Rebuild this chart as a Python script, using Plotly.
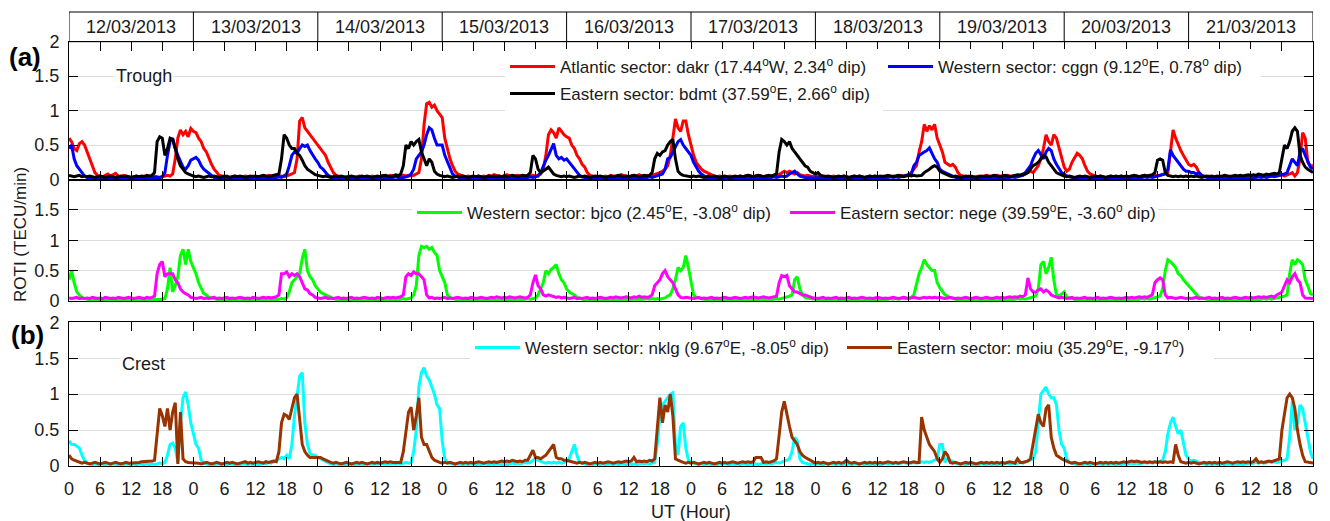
import plotly.graph_objects as go

FONT = "Arial, Liberation Sans, sans-serif"

# ---------------- data (ROTI, TECU/min), one value every 0.5 h, 12/03 00UT -> 22/03 00UT
HOURS = [i / 2 for i in range(481)]
DAYS = ["12/03/2013", "13/03/2013", "14/03/2013", "15/03/2013", "16/03/2013",
        "17/03/2013", "18/03/2013", "19/03/2013", "20/03/2013", "21/03/2013"]
X_TICKS = [0, 6, 12, 18, 24, 30, 36, 42, 48, 54, 60, 66, 72, 78, 84, 90, 96, 102, 108, 114,
           120, 126, 132, 138, 144, 150, 156, 162, 168, 174, 180, 186, 192, 198, 204, 210,
           216, 222, 228, 234, 240]
X_TICK_TEXT = ["0", "6", "12", "18"] * 10 + ["0"]
Y_TICKS = [0, 0.5, 1, 1.5, 2]
Y_TICK_TEXT = ["0", "0.5", "1", "1.5", "2"]
Y_TICK_TEXT_MID = ["0", "0.5", "1", "1.5", ""]

DAKR = [
 .6,.55,.45,.42,.52,.55,.5,.4,.28,.18,.1,.06,
 .05,.04,.06,.08,.05,.07,.09,.05,.04,.06,.05,.04,
 .03,.04,.05,.03,.04,.05,.04,.03,.04,.05,.04,.03,
 .04,.05,.06,.05,.08,.3,.6,.72,.65,.7,.62,.74,
 .7,.68,.6,.55,.45,.4,.3,.22,.15,.1,.06,.05,
 .04,.05,.03,.04,.05,.04,.03,.04,.05,.04,.03,.05,
 .04,.03,.04,.05,.04,.06,.05,.04,.05,.04,.05,.04,
 .05,.06,.08,.1,.3,.85,.9,.75,.7,.65,.6,.55,
 .5,.45,.4,.35,.25,.18,.1,.06,.05,.04,.03,.04,
 .05,.04,.03,.04,.05,.04,.03,.04,.03,.05,.04,.03,
 .04,.06,.05,.04,.06,.05,.07,.06,.05,.06,.05,.06,
 .05,.06,.08,.1,.3,.8,1.1,1.12,1.05,1.08,1.0,.95,
 .9,.6,.45,.3,.2,.12,.08,.06,.05,.04,.05,.04,
 .03,.04,.05,.04,.05,.04,.06,.05,.07,.06,.05,.04,
 .06,.07,.05,.04,.05,.06,.05,.04,.05,.06,.05,.06,
 .05,.06,.08,.15,.35,.65,.72,.68,.6,.75,.7,.65,
 .62,.6,.5,.45,.35,.3,.22,.18,.1,.06,.05,.04,
 .05,.04,.03,.05,.04,.06,.05,.04,.05,.07,.06,.05,
 .04,.05,.06,.05,.07,.05,.04,.06,.05,.06,.07,.08,
 .1,.12,.15,.2,.35,.6,.88,.75,.7,.85,.85,.65,
 .5,.35,.25,.2,.15,.12,.1,.08,.06,.05,.04,.05,
 .04,.03,.04,.05,.04,.03,.04,.05,.04,.05,.06,.05,
 .04,.05,.06,.05,.04,.05,.04,.05,.06,.05,.07,.1,
 .12,.1,.12,.1,.08,.1,.07,.06,.05,.06,.05,.04,
 .05,.04,.05,.04,.05,.03,.04,.05,.04,.03,.04,.05,
 .04,.03,.04,.05,.04,.05,.04,.03,.04,.05,.04,.05,
 .04,.03,.05,.04,.05,.04,.05,.04,.05,.06,.05,.06,
 .07,.1,.15,.2,.4,.55,.8,.7,.78,.72,.8,.6,
 .5,.4,.25,.22,.2,.22,.18,.1,.06,.05,.04,.05,
 .04,.03,.04,.05,.04,.05,.06,.05,.04,.05,.06,.05,
 .04,.05,.06,.05,.04,.05,.06,.07,.06,.08,.1,.12,
 .1,.15,.2,.3,.45,.65,.55,.5,.65,.6,.45,.3,
 .18,.12,.15,.25,.32,.38,.35,.3,.2,.12,.08,.06,
 .05,.04,.05,.04,.03,.04,.05,.04,.03,.04,.05,.04,
 .03,.04,.05,.04,.05,.04,.05,.06,.05,.04,.05,.06,
 .05,.06,.07,.08,.1,.4,.72,.6,.5,.42,.35,.28,
 .22,.2,.22,.18,.1,.06,.05,.04,.05,.04,.03,.04,
 .05,.04,.03,.04,.05,.04,.03,.04,.05,.04,.05,.04,
 .05,.06,.05,.04,.05,.06,.05,.06,.05,.06,.05,.06,
 .07,.05,.06,.08,.1,.05,.1,.3,.68,.6,.25,.2,
 .2]

CGGN = [
 .45,.5,.3,.2,.15,.1,.05,.03,.03,.02,.03,.02,
 .02,.03,.02,.03,.02,.02,.03,.02,.03,.02,.02,.03,
 .02,.03,.02,.02,.03,.02,.03,.02,.02,.03,.02,.03,
 .04,.1,.35,.55,.6,.45,.35,.25,.18,.15,.2,.28,
 .3,.32,.28,.2,.15,.12,.08,.05,.03,.03,.02,.03,
 .02,.03,.02,.02,.03,.02,.03,.02,.02,.03,.02,.03,
 .02,.03,.02,.03,.02,.02,.03,.02,.03,.04,.03,.05,
 .08,.2,.35,.4,.38,.45,.5,.48,.5,.42,.35,.3,
 .25,.18,.15,.1,.06,.04,.03,.02,.03,.02,.03,.02,
 .02,.03,.02,.03,.02,.02,.03,.02,.03,.02,.02,.03,
 .02,.03,.02,.03,.02,.03,.04,.03,.02,.03,.04,.05,
 .08,.15,.3,.35,.4,.5,.65,.75,.72,.6,.5,.5,
 .5,.35,.25,.15,.08,.05,.03,.02,.03,.02,.03,.02,
 .02,.03,.02,.03,.02,.02,.03,.02,.03,.02,.02,.03,
 .02,.03,.02,.03,.02,.03,.02,.03,.02,.03,.04,.03,
 .04,.05,.1,.2,.28,.35,.45,.52,.35,.3,.32,.28,
 .3,.25,.2,.15,.1,.06,.04,.03,.02,.03,.02,.03,
 .02,.02,.03,.02,.03,.02,.02,.03,.02,.03,.02,.03,
 .02,.03,.02,.03,.02,.03,.02,.03,.04,.03,.04,.05,
 .06,.08,.15,.3,.32,.4,.48,.55,.58,.5,.45,.4,
 .35,.25,.18,.12,.08,.05,.03,.02,.03,.02,.03,.02,
 .02,.03,.02,.03,.02,.02,.03,.02,.03,.02,.02,.03,
 .02,.03,.02,.03,.02,.03,.02,.03,.04,.03,.04,.05,
 .04,.05,.08,.1,.12,.08,.05,.04,.03,.02,.03,.02,
 .02,.03,.02,.03,.02,.02,.03,.02,.03,.02,.02,.03,
 .02,.03,.02,.03,.02,.03,.02,.02,.03,.02,.03,.02,
 .03,.02,.03,.02,.03,.04,.03,.04,.03,.04,.05,.06,
 .06,.08,.2,.25,.35,.38,.4,.42,.46,.38,.3,.25,
 .15,.12,.1,.08,.06,.04,.03,.02,.03,.02,.03,.02,
 .02,.03,.02,.03,.02,.02,.03,.02,.03,.02,.02,.03,
 .02,.03,.02,.03,.04,.03,.04,.05,.06,.1,.15,.2,
 .3,.38,.42,.35,.3,.4,.45,.42,.3,.22,.15,.1,
 .08,.05,.04,.03,.02,.03,.02,.03,.02,.02,.03,.02,
 .03,.02,.02,.03,.02,.03,.02,.03,.02,.02,.03,.02,
 .03,.02,.03,.02,.03,.02,.03,.04,.03,.04,.03,.04,
 .04,.05,.06,.08,.15,.43,.35,.3,.25,.2,.15,.12,
 .12,.1,.1,.08,.1,.06,.04,.03,.02,.03,.02,.03,
 .02,.03,.02,.02,.03,.02,.03,.02,.02,.03,.02,.03,
 .03,.02,.03,.04,.03,.04,.03,.04,.05,.04,.05,.06,
 .06,.08,.1,.2,.3,.25,.2,.4,.45,.35,.25,.18,
 .15]

BDMT = [
 .06,.05,.04,.05,.06,.04,.05,.04,.05,.04,.03,.04,
 .05,.04,.03,.04,.05,.04,.03,.04,.05,.04,.05,.04,
 .03,.04,.05,.04,.05,.04,.06,.05,.06,.1,.55,.62,
 .6,.35,.45,.6,.58,.45,.3,.2,.15,.1,.08,.06,
 .05,.04,.05,.04,.03,.04,.05,.04,.05,.04,.03,.04,
 .05,.04,.03,.04,.05,.04,.05,.04,.03,.04,.05,.04,
 .05,.04,.05,.06,.05,.04,.05,.06,.07,.08,.3,.65,
 .6,.5,.45,.45,.38,.35,.28,.2,.15,.12,.1,.07,
 .06,.05,.04,.05,.04,.03,.04,.05,.04,.05,.04,.03,
 .04,.05,.04,.03,.04,.05,.04,.05,.04,.03,.04,.05,
 .04,.05,.06,.05,.04,.05,.06,.05,.08,.2,.5,.45,
 .55,.5,.55,.58,.4,.3,.2,.3,.25,.12,.08,.06,
 .05,.04,.05,.04,.03,.04,.05,.04,.05,.04,.03,.04,
 .05,.04,.05,.04,.03,.04,.05,.04,.05,.04,.05,.04,
 .05,.04,.05,.06,.05,.04,.05,.06,.05,.06,.1,.35,
 .3,.15,.1,.12,.15,.18,.12,.08,.06,.05,.04,.05,
 .04,.05,.04,.03,.04,.05,.04,.05,.04,.03,.04,.05,
 .04,.05,.04,.03,.04,.05,.04,.05,.06,.05,.04,.05,
 .04,.05,.06,.05,.04,.05,.06,.05,.06,.1,.3,.38,
 .35,.4,.42,.5,.55,.58,.3,.12,.08,.06,.05,.05,
 .04,.05,.04,.05,.04,.03,.04,.05,.04,.05,.04,.03,
 .04,.05,.04,.03,.04,.05,.04,.05,.04,.05,.06,.05,
 .04,.05,.06,.05,.04,.05,.06,.05,.06,.08,.4,.58,
 .55,.5,.55,.45,.4,.35,.3,.25,.2,.18,.12,.1,
 .08,.1,.06,.05,.04,.05,.04,.03,.04,.05,.04,.05,
 .04,.03,.04,.05,.04,.05,.04,.03,.04,.05,.04,.05,
 .04,.05,.04,.05,.06,.05,.04,.05,.06,.05,.04,.05,
 .06,.05,.06,.05,.06,.06,.1,.12,.15,.18,.2,.18,
 .12,.1,.08,.06,.05,.04,.05,.04,.03,.04,.05,.04,
 .05,.04,.03,.04,.05,.04,.05,.04,.05,.06,.05,.04,
 .05,.06,.05,.04,.05,.06,.07,.06,.08,.08,.1,.15,
 .2,.22,.25,.3,.35,.33,.25,.2,.15,.1,.08,.06,
 .05,.04,.05,.04,.03,.04,.05,.04,.05,.04,.03,.04,
 .05,.04,.05,.04,.03,.04,.05,.04,.05,.04,.05,.04,
 .05,.04,.05,.06,.05,.04,.05,.06,.05,.06,.07,.1,
 .28,.3,.28,.1,.06,.05,.04,.05,.04,.05,.04,.05,
 .04,.05,.04,.05,.04,.03,.04,.05,.04,.05,.04,.05,
 .04,.05,.06,.05,.04,.05,.06,.05,.06,.05,.06,.07,
 .06,.07,.06,.08,.07,.06,.08,.07,.08,.09,.08,.1,
 .3,.5,.45,.55,.7,.75,.7,.35,.25,.18,.15,.12,
 .1]

BJCO = [
 .35,.5,.3,.15,.1,.06,.04,.03,.02,.03,.02,.03,
 .02,.03,.02,.02,.03,.02,.03,.02,.02,.03,.02,.03,
 .02,.03,.02,.03,.02,.02,.03,.02,.03,.02,.03,.02,
 .03,.04,.2,.55,.15,.25,.4,.75,.85,.6,.85,.65,
 .55,.45,.3,.2,.12,.1,.06,.05,.04,.03,.02,.03,
 .02,.03,.02,.03,.02,.02,.03,.02,.03,.02,.02,.03,
 .02,.03,.02,.03,.02,.03,.02,.03,.02,.03,.04,.03,
 .05,.15,.3,.35,.4,.45,.7,.85,.5,.4,.35,.25,
 .2,.15,.12,.1,.08,.05,.04,.03,.02,.03,.02,.03,
 .02,.02,.03,.02,.03,.02,.02,.03,.02,.03,.02,.02,
 .03,.02,.03,.02,.03,.02,.03,.02,.03,.04,.03,.04,
 .05,.1,.25,.75,.9,.88,.9,.85,.88,.8,.75,.5,
 .4,.3,.1,.06,.04,.03,.02,.03,.02,.03,.02,.02,
 .03,.02,.03,.02,.02,.03,.02,.03,.02,.02,.03,.02,
 .03,.02,.03,.02,.03,.02,.03,.02,.03,.04,.03,.04,
 .05,.1,.2,.3,.5,.45,.52,.55,.6,.45,.35,.3,
 .2,.15,.12,.1,.06,.04,.03,.02,.03,.02,.03,.02,
 .02,.03,.02,.03,.02,.02,.03,.02,.03,.02,.03,.02,
 .03,.02,.03,.02,.03,.02,.03,.04,.03,.04,.03,.04,
 .03,.04,.05,.08,.1,.2,.35,.55,.5,.55,.75,.55,
 .3,.1,.06,.05,.04,.03,.02,.03,.02,.03,.02,.02,
 .03,.02,.03,.02,.02,.03,.02,.03,.02,.02,.03,.02,
 .03,.02,.03,.02,.03,.02,.03,.02,.03,.04,.03,.04,
 .05,.06,.08,.1,.35,.4,.2,.1,.06,.05,.04,.03,
 .03,.02,.03,.02,.03,.02,.02,.03,.02,.03,.02,.02,
 .03,.02,.03,.02,.02,.03,.02,.03,.02,.02,.03,.02,
 .03,.02,.03,.02,.03,.04,.03,.04,.03,.04,.05,.04,
 .05,.06,.1,.3,.45,.55,.68,.6,.55,.5,.5,.3,
 .22,.15,.1,.08,.05,.04,.03,.02,.03,.02,.03,.02,
 .02,.03,.02,.03,.02,.02,.03,.02,.03,.02,.02,.03,
 .02,.03,.02,.03,.02,.03,.04,.03,.04,.03,.04,.05,
 .06,.08,.2,.6,.65,.45,.55,.72,.35,.1,.08,.12,
 .15,.06,.05,.04,.03,.02,.03,.02,.03,.02,.02,.03,
 .02,.03,.02,.02,.03,.02,.03,.02,.02,.03,.02,.03,
 .02,.03,.02,.03,.02,.03,.04,.03,.04,.03,.04,.05,
 .06,.08,.2,.5,.68,.65,.6,.55,.45,.42,.35,.3,
 .25,.2,.15,.1,.06,.05,.04,.03,.02,.03,.02,.03,
 .02,.02,.03,.02,.03,.02,.02,.03,.02,.03,.02,.02,
 .03,.02,.03,.02,.03,.04,.03,.04,.03,.04,.05,.06,
 .06,.08,.1,.45,.68,.6,.68,.65,.6,.35,.25,.12,
 .1]

NEGE = [
 .05,.04,.05,.06,.04,.05,.04,.05,.04,.06,.05,.04,
 .05,.04,.06,.05,.04,.05,.04,.06,.05,.04,.05,.06,
 .05,.04,.05,.06,.05,.04,.06,.05,.06,.08,.45,.6,
 .65,.4,.45,.45,.45,.35,.3,.2,.15,.12,.1,.06,
 .05,.04,.05,.06,.04,.05,.04,.05,.06,.04,.05,.04,
 .05,.06,.04,.05,.04,.05,.06,.05,.04,.05,.04,.06,
 .05,.04,.05,.06,.05,.06,.05,.06,.07,.1,.45,.45,
 .48,.4,.45,.42,.45,.4,.3,.2,.18,.12,.1,.06,
 .05,.04,.05,.06,.04,.05,.04,.05,.06,.04,.05,.04,
 .05,.06,.04,.05,.04,.05,.06,.05,.04,.05,.04,.06,
 .05,.04,.05,.06,.05,.06,.05,.06,.07,.1,.4,.45,
 .42,.48,.45,.45,.4,.35,.1,.05,.06,.04,.05,.04,
 .05,.06,.04,.05,.04,.05,.06,.05,.04,.05,.04,.06,
 .05,.04,.05,.06,.05,.04,.05,.06,.05,.07,.06,.05,
 .06,.05,.07,.06,.05,.06,.07,.06,.05,.06,.1,.3,
 .43,.25,.2,.1,.08,.1,.09,.08,.06,.07,.05,.06,
 .05,.04,.05,.06,.04,.05,.04,.05,.06,.04,.05,.04,
 .05,.06,.05,.04,.05,.06,.05,.07,.06,.05,.06,.07,
 .06,.05,.07,.06,.08,.06,.07,.06,.07,.1,.25,.3,
 .35,.45,.5,.4,.35,.3,.2,.1,.06,.05,.06,.05,
 .05,.04,.05,.06,.04,.05,.04,.05,.06,.04,.05,.04,
 .05,.06,.05,.04,.05,.06,.05,.04,.05,.06,.05,.06,
 .07,.06,.05,.06,.07,.06,.05,.06,.07,.08,.3,.42,
 .4,.42,.25,.2,.15,.15,.12,.1,.1,.08,.06,.05,
 .05,.04,.05,.06,.04,.05,.04,.05,.06,.04,.05,.04,
 .05,.06,.04,.05,.04,.05,.06,.05,.04,.05,.04,.05,
 .06,.05,.04,.05,.04,.05,.06,.05,.04,.05,.06,.05,
 .04,.05,.06,.05,.04,.05,.06,.05,.06,.05,.06,.05,
 .06,.05,.04,.05,.06,.05,.04,.05,.04,.05,.06,.05,
 .04,.05,.06,.05,.04,.05,.06,.05,.04,.05,.06,.05,
 .06,.05,.06,.07,.06,.07,.06,.08,.07,.1,.38,.2,
 .15,.15,.18,.2,.15,.18,.15,.1,.08,.06,.05,.06,
 .05,.04,.05,.06,.04,.05,.04,.05,.06,.04,.05,.04,
 .05,.06,.04,.05,.04,.05,.06,.05,.04,.05,.04,.05,
 .06,.05,.06,.05,.06,.07,.06,.07,.06,.08,.1,.3,
 .35,.38,.35,.1,.05,.06,.05,.04,.05,.06,.05,.04,
 .05,.04,.05,.06,.04,.05,.04,.05,.06,.04,.05,.04,
 .05,.06,.04,.05,.04,.05,.06,.05,.04,.05,.06,.05,
 .06,.05,.06,.07,.06,.07,.06,.07,.08,.06,.1,.12,
 .15,.25,.35,.3,.4,.45,.35,.3,.1,.05,.05,.04,
 .04]

NKLG = [
 .35,.3,.3,.28,.25,.15,.08,.04,.03,.02,.03,.02,
 .03,.02,.02,.03,.02,.03,.02,.02,.03,.02,.03,.02,
 .02,.03,.02,.03,.02,.02,.03,.02,.03,.02,.03,.04,
 .03,.05,.15,.3,.32,.25,.05,.6,.95,1.03,.85,.6,
 .45,.3,.25,.08,.04,.03,.02,.03,.02,.03,.02,.02,
 .03,.02,.03,.02,.02,.03,.02,.03,.02,.02,.03,.02,
 .03,.02,.03,.04,.03,.05,.04,.06,.08,.1,.12,.1,
 .15,.1,.3,.7,1.0,1.25,1.3,.6,.3,.18,.15,.15,
 .12,.1,.08,.06,.04,.03,.02,.03,.02,.03,.02,.02,
 .03,.02,.03,.02,.02,.03,.02,.03,.02,.02,.03,.02,
 .03,.02,.03,.02,.03,.04,.03,.04,.03,.04,.05,.04,
 .05,.2,.5,1.1,1.3,1.37,1.25,1.2,1.1,1.0,.85,.8,
 .35,.1,.05,.04,.03,.02,.03,.02,.02,.03,.02,.03,
 .02,.02,.03,.02,.03,.02,.02,.03,.02,.03,.02,.02,
 .03,.02,.03,.04,.03,.04,.03,.04,.05,.04,.05,.08,
 .1,.08,.06,.05,.04,.05,.04,.05,.04,.05,.04,.05,
 .06,.1,.2,.3,.15,.05,.04,.03,.02,.03,.02,.03,
 .02,.02,.03,.02,.03,.02,.02,.03,.02,.03,.02,.02,
 .03,.02,.03,.02,.03,.04,.03,.04,.03,.04,.05,.3,
 .7,.85,.9,.95,1.0,1.02,.3,.15,.55,.6,.25,.08,
 .05,.04,.03,.02,.03,.02,.03,.02,.02,.03,.02,.03,
 .02,.03,.02,.02,.03,.02,.03,.02,.03,.02,.02,.03,
 .02,.03,.02,.03,.04,.03,.04,.03,.04,.05,.04,.05,
 .06,.08,.1,.2,.4,.35,.1,.05,.04,.03,.02,.03,
 .02,.03,.02,.02,.03,.02,.03,.02,.02,.03,.02,.03,
 .02,.03,.02,.03,.02,.02,.03,.02,.03,.02,.03,.02,
 .03,.02,.03,.04,.03,.04,.03,.04,.03,.04,.05,.04,
 .05,.04,.05,.04,.05,.06,.05,.06,.05,.06,.08,.1,
 .3,.3,.05,.1,.08,.05,.04,.03,.02,.03,.02,.03,
 .02,.02,.03,.02,.03,.02,.02,.03,.02,.03,.02,.03,
 .02,.03,.04,.03,.04,.03,.04,.05,.04,.05,.06,.08,
 .1,.2,.6,1.0,1.05,1.1,1.0,.95,.95,.85,.5,.3,
 .25,.1,.05,.04,.03,.02,.03,.02,.03,.02,.02,.03,
 .02,.03,.02,.02,.03,.02,.03,.02,.02,.03,.02,.03,
 .02,.03,.04,.03,.04,.03,.04,.05,.04,.05,.04,.06,
 .05,.06,.08,.2,.45,.6,.68,.55,.45,.5,.3,.15,
 .1,.06,.08,.06,.05,.04,.03,.02,.03,.02,.03,.02,
 .02,.03,.02,.03,.02,.02,.03,.02,.03,.02,.03,.04,
 .03,.04,.05,.04,.05,.04,.05,.06,.05,.06,.05,.06,
 .06,.08,.1,.4,.9,.5,.6,.85,.8,.6,.4,.2,
 .1]

MOIU = [
 .15,.1,.08,.07,.05,.04,.05,.04,.03,.04,.05,.04,
 .03,.04,.05,.04,.03,.04,.05,.04,.03,.04,.05,.04,
 .04,.05,.04,.05,.06,.06,.07,.06,.07,.08,.4,.8,
 .7,.55,.8,.5,.75,.88,.03,.75,.1,.06,.05,.05,
 .04,.05,.04,.03,.04,.05,.04,.03,.04,.05,.04,.03,
 .04,.05,.04,.05,.04,.03,.04,.05,.06,.04,.05,.04,
 .05,.06,.05,.04,.06,.05,.06,.07,.06,.2,.6,.72,
 .7,.65,.8,.95,1.0,.6,.3,.2,.15,.12,.12,.12,
 .12,.12,.1,.08,.06,.05,.04,.05,.04,.03,.04,.05,
 .04,.03,.04,.05,.04,.05,.04,.03,.04,.05,.04,.05,
 .04,.05,.06,.05,.06,.05,.05,.06,.05,.2,.5,.75,
 .82,.5,.7,.95,.4,.3,.3,.2,.12,.08,.06,.05,
 .04,.05,.04,.05,.04,.03,.04,.05,.04,.05,.04,.05,
 .04,.05,.06,.05,.04,.05,.06,.05,.06,.05,.06,.07,
 .06,.07,.06,.08,.07,.06,.07,.06,.08,.08,.15,.22,
 .12,.12,.1,.12,.15,.2,.25,.3,.12,.1,.1,.08,
 .08,.07,.06,.05,.04,.05,.04,.05,.04,.03,.04,.05,
 .04,.05,.04,.05,.06,.05,.04,.05,.06,.05,.06,.07,
 .06,.07,.12,.06,.07,.06,.07,.06,.08,.07,.1,.5,
 .95,.6,.85,.75,1.0,.7,.1,.08,.06,.05,.04,.05,
 .04,.05,.04,.03,.04,.05,.04,.05,.04,.03,.04,.05,
 .04,.05,.04,.05,.06,.05,.04,.05,.06,.05,.06,.05,
 .06,.12,.12,.12,.05,.06,.05,.06,.07,.1,.4,.75,
 .9,.7,.55,.4,.35,.3,.2,.15,.12,.1,.08,.05,
 .04,.05,.04,.05,.04,.03,.04,.05,.04,.05,.04,.05,
 .08,.05,.04,.05,.04,.03,.04,.05,.04,.05,.04,.05,
 .04,.05,.04,.05,.06,.05,.04,.05,.04,.05,.06,.05,
 .04,.05,.06,.05,.05,.68,.5,.4,.3,.25,.2,.1,
 .05,.1,.2,.15,.05,.04,.05,.04,.03,.04,.05,.04,
 .05,.04,.03,.04,.05,.04,.05,.04,.05,.04,.05,.04,
 .05,.04,.05,.06,.05,.04,.1,.05,.05,.06,.07,.1,
 .3,.5,.72,.6,.55,.8,.85,.4,.25,.15,.12,.1,
 .08,.06,.05,.04,.05,.04,.03,.04,.05,.04,.05,.04,
 .03,.04,.05,.04,.05,.04,.05,.04,.05,.04,.05,.06,
 .05,.06,.07,.06,.07,.06,.05,.06,.05,.06,.05,.06,
 .05,.06,.05,.06,.05,.06,.05,.3,.15,.06,.05,.04,
 .05,.04,.05,.04,.03,.04,.05,.04,.05,.04,.05,.04,
 .05,.04,.05,.06,.05,.04,.05,.06,.05,.06,.05,.06,
 .05,.06,.1,.05,.06,.05,.06,.07,.06,.07,.08,.1,
 .5,.7,.95,1.0,.95,.8,.5,.3,.15,.06,.05,.04,
 .04]

for _name, _s in [("DAKR", DAKR), ("CGGN", CGGN), ("BDMT", BDMT), ("BJCO", BJCO),
                  ("NEGE", NEGE), ("NKLG", NKLG), ("MOIU", MOIU)]:
    if len(_s) != len(HOURS):
        raise ValueError(f"{_name} has {len(_s)} values, expected {len(HOURS)}")

# ---------------- figure
W, H = 1330, 521
ML, MR, MT, MB = 69, 17, 12, 55
PH = H - MT - MB


def fy(py):
    """paper y fraction from a pixel row"""
    return (H - MB - py) / PH


def fx(px):
    return (px - ML) / (W - ML - MR)


HEADER = (fy(41.7), 1.0)
DOM1 = (fy(179.5), fy(41.7))
DOM2 = (fy(301.0), fy(179.5))
DOM3 = (0.0, fy(322.3))

fig = go.Figure()

series = [
    (DAKR, "Atlantic sector: dakr (17.44<sup>o</sup>W, 2.34<sup>o</sup> dip)", "#ff0000", "x", "y", "legend"),
    (CGGN, "Western sector: cggn (9.12<sup>o</sup>E, 0.78<sup>o</sup> dip)", "#0000ff", "x", "y", "legend"),
    (BDMT, "Eastern sector: bdmt (37.59<sup>o</sup>E, 2.66<sup>o</sup> dip)", "#000000", "x", "y", "legend2"),
    (BJCO, "Western sector: bjco (2.45<sup>o</sup>E, -3.08<sup>o</sup> dip)", "#00ff00", "x2", "y2", "legend3"),
    (NEGE, "Eastern sector: nege (39.59<sup>o</sup>E, -3.60<sup>o</sup> dip)", "#ff00ff", "x2", "y2", "legend3"),
    (NKLG, "Western sector: nklg (9.67<sup>o</sup>E, -8.05<sup>o</sup> dip)", "#00ffff", "x3", "y3", "legend4"),
    (MOIU, "Eastern sector: moiu (35.29<sup>o</sup>E, -9.17<sup>o</sup>)", "#993300", "x3", "y3", "legend4"),
]
for vals, name, color, xa, ya, leg in series:
    fig.add_trace(go.Scatter(x=HOURS, y=vals, mode="lines", name=name,
                             line=dict(color=color, width=3), xaxis=xa, yaxis=ya,
                             legend=leg, hoverinfo="skip"))

tickfont = dict(family=FONT, size=18, color="#1a1a1a")
xcommon = dict(range=[0, 240], tickmode="array", tickvals=X_TICKS, ticktext=X_TICK_TEXT,
               ticks="inside", ticklen=9, tickcolor="black", showline=True, linecolor="black",
               linewidth=1, mirror="ticks", showgrid=False, zeroline=False, tickfont=tickfont,
               ticklabelstandoff=6, automargin=False)
ycommon = dict(range=[0, 2], tickmode="array", tickvals=Y_TICKS, ticks="inside", ticklen=9,
               tickcolor="black", showline=True, linecolor="black", linewidth=1, mirror="ticks",
               showgrid=True, gridcolor="#dcdcdc", gridwidth=1, zeroline=False,
               tickfont=tickfont, ticklabelstandoff=5, automargin=False)

leg_common = dict(orientation="h", xanchor="left", yanchor="middle", bgcolor="white",
                  borderwidth=0, font=dict(family=FONT, size=17, color="#1a1a1a"),
                  itemwidth=45, entrywidthmode="pixels", itemclick=False)

fig.update_layout(
    width=W, height=H, margin=dict(l=ML, r=MR, t=MT, b=MB, autoexpand=False),
    paper_bgcolor="white", plot_bgcolor="white", font=dict(family=FONT, color="#1a1a1a"),
    showlegend=True,
    xaxis=dict(xcommon, anchor="y", domain=[0, 1], showticklabels=False, matches="x3"),
    xaxis2=dict(xcommon, anchor="y2", domain=[0, 1], showticklabels=False, matches="x3"),
    xaxis3=dict(xcommon, anchor="y3", domain=[0, 1]),
    yaxis=dict(ycommon, anchor="x", domain=list(DOM1), ticktext=Y_TICK_TEXT),
    yaxis2=dict(ycommon, anchor="x2", domain=list(DOM2), ticktext=Y_TICK_TEXT_MID),
    yaxis3=dict(ycommon, anchor="x3", domain=list(DOM3), ticktext=Y_TICK_TEXT),
    legend=dict(leg_common, x=fx(505), y=fy(67), entrywidth=318),
    legend2=dict(leg_common, x=fx(505), y=fy(94), entrywidth=318),
    legend3=dict(leg_common, x=fx(412), y=fy(213), entrywidth=313),
    legend4=dict(leg_common, x=fx(470), y=fy(348), entrywidth=312),
)

# date header boxes
fig.add_shape(type="rect", xref="x", yref="paper", x0=0, x1=24 * len(DAYS),
              y0=HEADER[0], y1=HEADER[1], line=dict(color="black", width=1), layer="above")
for i, d in enumerate(DAYS):
    if i > 0:
        fig.add_shape(type="line", xref="x", yref="paper", x0=24 * i, x1=24 * i,
                      y0=HEADER[0], y1=HEADER[1], line=dict(color="black", width=1))
    fig.add_annotation(x=24 * i + 12, y=(HEADER[0] + HEADER[1]) / 2, xref="x", yref="paper",
                       xanchor="center", yanchor="middle", text=d, showarrow=False,
                       font=dict(family=FONT, size=18, color="#1a1a1a"))

ann_font = dict(family=FONT, size=18, color="#1a1a1a")


def label(px, py, text, font, **kw):
    fig.add_annotation(x=fx(px), y=fy(py), xref="paper", yref="paper", text=text,
                       xanchor="center", yanchor="middle", showarrow=False, font=font, **kw)


label(144, 76, "Trough", ann_font, bgcolor="white")
label(143, 364, "Crest", ann_font, bgcolor="white")
label(25, 57, "<b>(a)</b>", dict(family=FONT, size=26, color="black"))
label(27, 335, "<b>(b)</b>", dict(family=FONT, size=26, color="black"))
label(20.5, 234.5, "ROTI (TECU/min)", dict(family=FONT, size=17, color="#1a1a1a"), textangle=-90)
label(691, 512, "UT (Hour)", ann_font)

fig.write_html("out.html")
